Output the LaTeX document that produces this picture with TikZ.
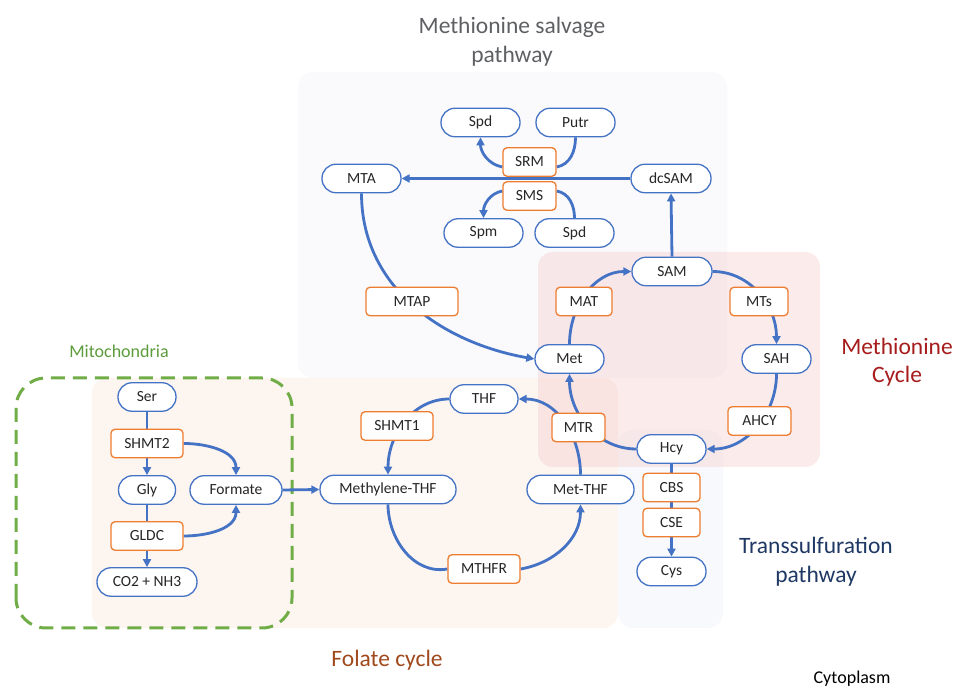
\documentclass[tikz,border=0pt]{standalone}
\usepackage{fontspec}
\setmainfont{Carlito}
\usetikzlibrary{arrows.meta}
\definecolor{nblue}{HTML}{4472C4}
\definecolor{norange}{HTML}{ED7D31}
\definecolor{mgreen}{HTML}{70AD47}
\definecolor{mgreentxt}{HTML}{5B9B3A}
\definecolor{salvbg}{HTML}{FAFAFC}
\definecolor{folbg}{HTML}{FDF5F0}
\definecolor{transbg}{HTML}{F7F9FD}
\definecolor{metbg}{HTML}{F5C6C6}
\definecolor{graytxt}{HTML}{5F6064}
\definecolor{redtxt}{HTML}{A61C1C}
\definecolor{browntxt}{HTML}{A0491C}
\definecolor{navytxt}{HTML}{1F3864}
\definecolor{nodetxt}{HTML}{262626}
\newcommand{\nodefnt}{\fontsize{15.5}{18}\selectfont}
\newcommand{\titlefnt}{\fontsize{23.5}{28.5}\selectfont}
\pgfdeclarelayer{bglayer}
\pgfdeclarelayer{edgelayer}
\pgfsetlayers{bglayer,edgelayer,main}
\begin{document}
\begin{tikzpicture}[x=1pt,y=1pt,
  met/.style={draw=nblue, fill=white, line width=1.3pt, rounded corners=14pt, minimum height=28.5pt, inner sep=0pt, font=\nodefnt, text=nodetxt},
  enz/.style={draw=norange, fill=white, line width=1.3pt, rounded corners=4pt, minimum height=28.5pt, inner sep=0pt, font=\nodefnt, text=nodetxt},
  conn/.style={draw=nblue, line width=2.8pt},
  arr/.style={conn, -{Triangle[length=8pt,width=8pt]}},
  region/.style={rounded corners=15pt},
  title/.style={font=\titlefnt, align=center}
]
\useasboundingbox (0,0) rectangle (955,687);

% background regions
\begin{pgfonlayer}{bglayer}
\fill[salvbg, region] (298,309) rectangle (727,615);
\fill[folbg, region] (92,59) rectangle (618,309);
\fill[transbg, region] (618,59) rectangle (723,257);
\fill[metbg, fill opacity=0.35, region] (538,220) rectangle (820,435);
\draw[mgreen, line width=3pt, dash pattern=on 14pt off 8pt, rounded corners=30pt] (16,59) rectangle (292,309);
\end{pgfonlayer}

% titles
\node[title, text=graytxt] (tsalv) at (512,645.5) {Methionine salvage\\pathway};
\node[title, text=redtxt] (tmet) at (897,325) {Methionine\\Cycle};
\node[title, text=navytxt] (ttrans) at (816,125.5) {Transsulfuration\\pathway};
\node[font=\titlefnt, text=browntxt] (tfol) at (387,27) {Folate cycle};
\node[font=\fontsize{18}{22}\selectfont, text=mgreentxt] (tmito) at (119,336) {Mitochondria};
\node[font=\fontsize{18}{22}\selectfont, text=black, anchor=base] (tcyto) at (852,3) {Cytoplasm};

% nodes
\node[met,minimum width=79pt] (Spd1) at (480.5,564.5) {Spd};
\node[met,minimum width=79pt] (Putr) at (575.5,564.5) {Putr};
\node[enz,minimum width=53pt] (SRM) at (529.5,525) {SRM};
\node[met,minimum width=79pt] (MTA) at (361.5,508.5) {MTA};
\node[met,minimum width=80pt] (dcSAM) at (671,508.5) {dcSAM};
\node[enz,minimum width=53pt] (SMS) at (529.5,491) {SMS};
\node[met,minimum width=79pt] (Spm) at (483.5,454) {Spm};
\node[met,minimum width=79pt] (Spd2) at (574.5,454) {Spd};
\node[met,minimum width=80pt] (SAM) at (672,415.5) {SAM};
\node[enz,minimum width=56pt] (MAT) at (584,385.5) {MAT};
\node[enz,minimum width=58pt] (MTs) at (759,385.5) {MTs};
\node[enz,minimum width=92pt] (MTAP) at (412,385.5) {MTAP};
\node[met,minimum width=69pt] (Met) at (569.5,328) {Met};
\node[met,minimum width=69pt] (SAH) at (776.5,328) {SAH};
\node[enz,minimum width=63pt] (AHCY) at (759.5,266) {AHCY};
\node[enz,minimum width=53pt] (MTR) at (578.5,259.5) {MTR};
\node[met,minimum width=69pt] (Hcy) at (671.5,238) {Hcy};
\node[met,minimum width=68pt] (THF) at (484,288) {THF};
\node[enz,minimum width=72pt] (SHMT1) at (397,261) {SHMT1};
\node[met,minimum width=136pt] (MeTHF) at (388,197.5) {Methylene-THF};
\node[met,minimum width=107pt] (MetTHF) at (580.5,197.5) {Met-THF};
\node[enz,minimum width=72pt] (MTHFR) at (484,118) {MTHFR};
\node[enz,minimum width=57pt] (CBS) at (671.5,199.5) {CBS};
\node[enz,minimum width=57pt] (CSE) at (671.5,164.5) {CSE};
\node[met,minimum width=69pt] (Cys) at (671.5,115.5) {Cys};
\node[met,minimum width=58pt] (Ser) at (147,290) {Ser};
\node[enz,minimum width=72pt] (SHMT2) at (147,243.5) {SHMT2};
\node[met,minimum width=57pt] (Gly) at (147,197) {Gly};
\node[met,minimum width=92pt] (Formate) at (236,197) {Formate};
\node[enz,minimum width=72pt] (GLDC) at (147,151) {GLDC};
\node[met,minimum width=100pt] (CO2) at (147,105) {CO2 + NH3};

% connectors
\begin{pgfonlayer}{edgelayer}
% salvage
\draw[arr] (dcSAM.west) -- (MTA.east);
\draw[arr] (SAM.north) -- (dcSAM.south);
\draw[conn] (Putr.south) to[out=-90,in=10] ([yshift=-5pt]SRM.east);
\draw[arr] ([yshift=-5pt]SRM.west) to[out=170,in=-90] (Spd1.south);
\draw[conn] (Spd2.north) to[out=90,in=-10] ([yshift=5pt]SMS.east);
\draw[arr] ([yshift=5pt]SMS.west) to[out=190,in=90] (Spm.north);
\draw[arr] (MTA.south) to[out=-90,in=170] (Met.west);
% methionine cycle
\draw[arr] (Met.north) to[out=90,in=180] (SAM.west);
\draw[arr] (SAM.east) to[out=0,in=90] (SAH.north);
\draw[arr] (SAH.south) to[out=-90,in=0] (Hcy.east);
\draw[arr] (Hcy.west) to[out=180,in=-90] (Met.south);
% folate cycle
\draw[arr] (THF.west) to[out=180,in=90] (MeTHF.north);
\draw[conn] (MeTHF.south) to[out=-90,in=190] (MTHFR.west);
\draw[arr] (MTHFR.east) to[out=10,in=-90] (MetTHF.south);
\draw[arr] (MetTHF.north) to[out=90,in=0] (THF.east);
% transsulfuration
\draw[conn] (Hcy.south) -- (CBS.north);
\draw[conn] (CBS.south) -- (CSE.north);
\draw[arr] (CSE.south) -- (Cys.north);
% mitochondria
\draw[conn] (Ser.south) -- (SHMT2.north);
\draw[arr] (SHMT2.south) -- (Gly.north);
\draw[conn] (Gly.south) -- (GLDC.north);
\draw[arr] (GLDC.south) -- (CO2.north);
\draw[arr] (SHMT2.east) to[out=0,in=90] (Formate.north);
\draw[arr] (GLDC.east) to[out=0,in=-90] (Formate.south);
\draw[arr] (Formate.east) -- (MeTHF.west);
\end{pgfonlayer}
\end{tikzpicture}
\end{document}
